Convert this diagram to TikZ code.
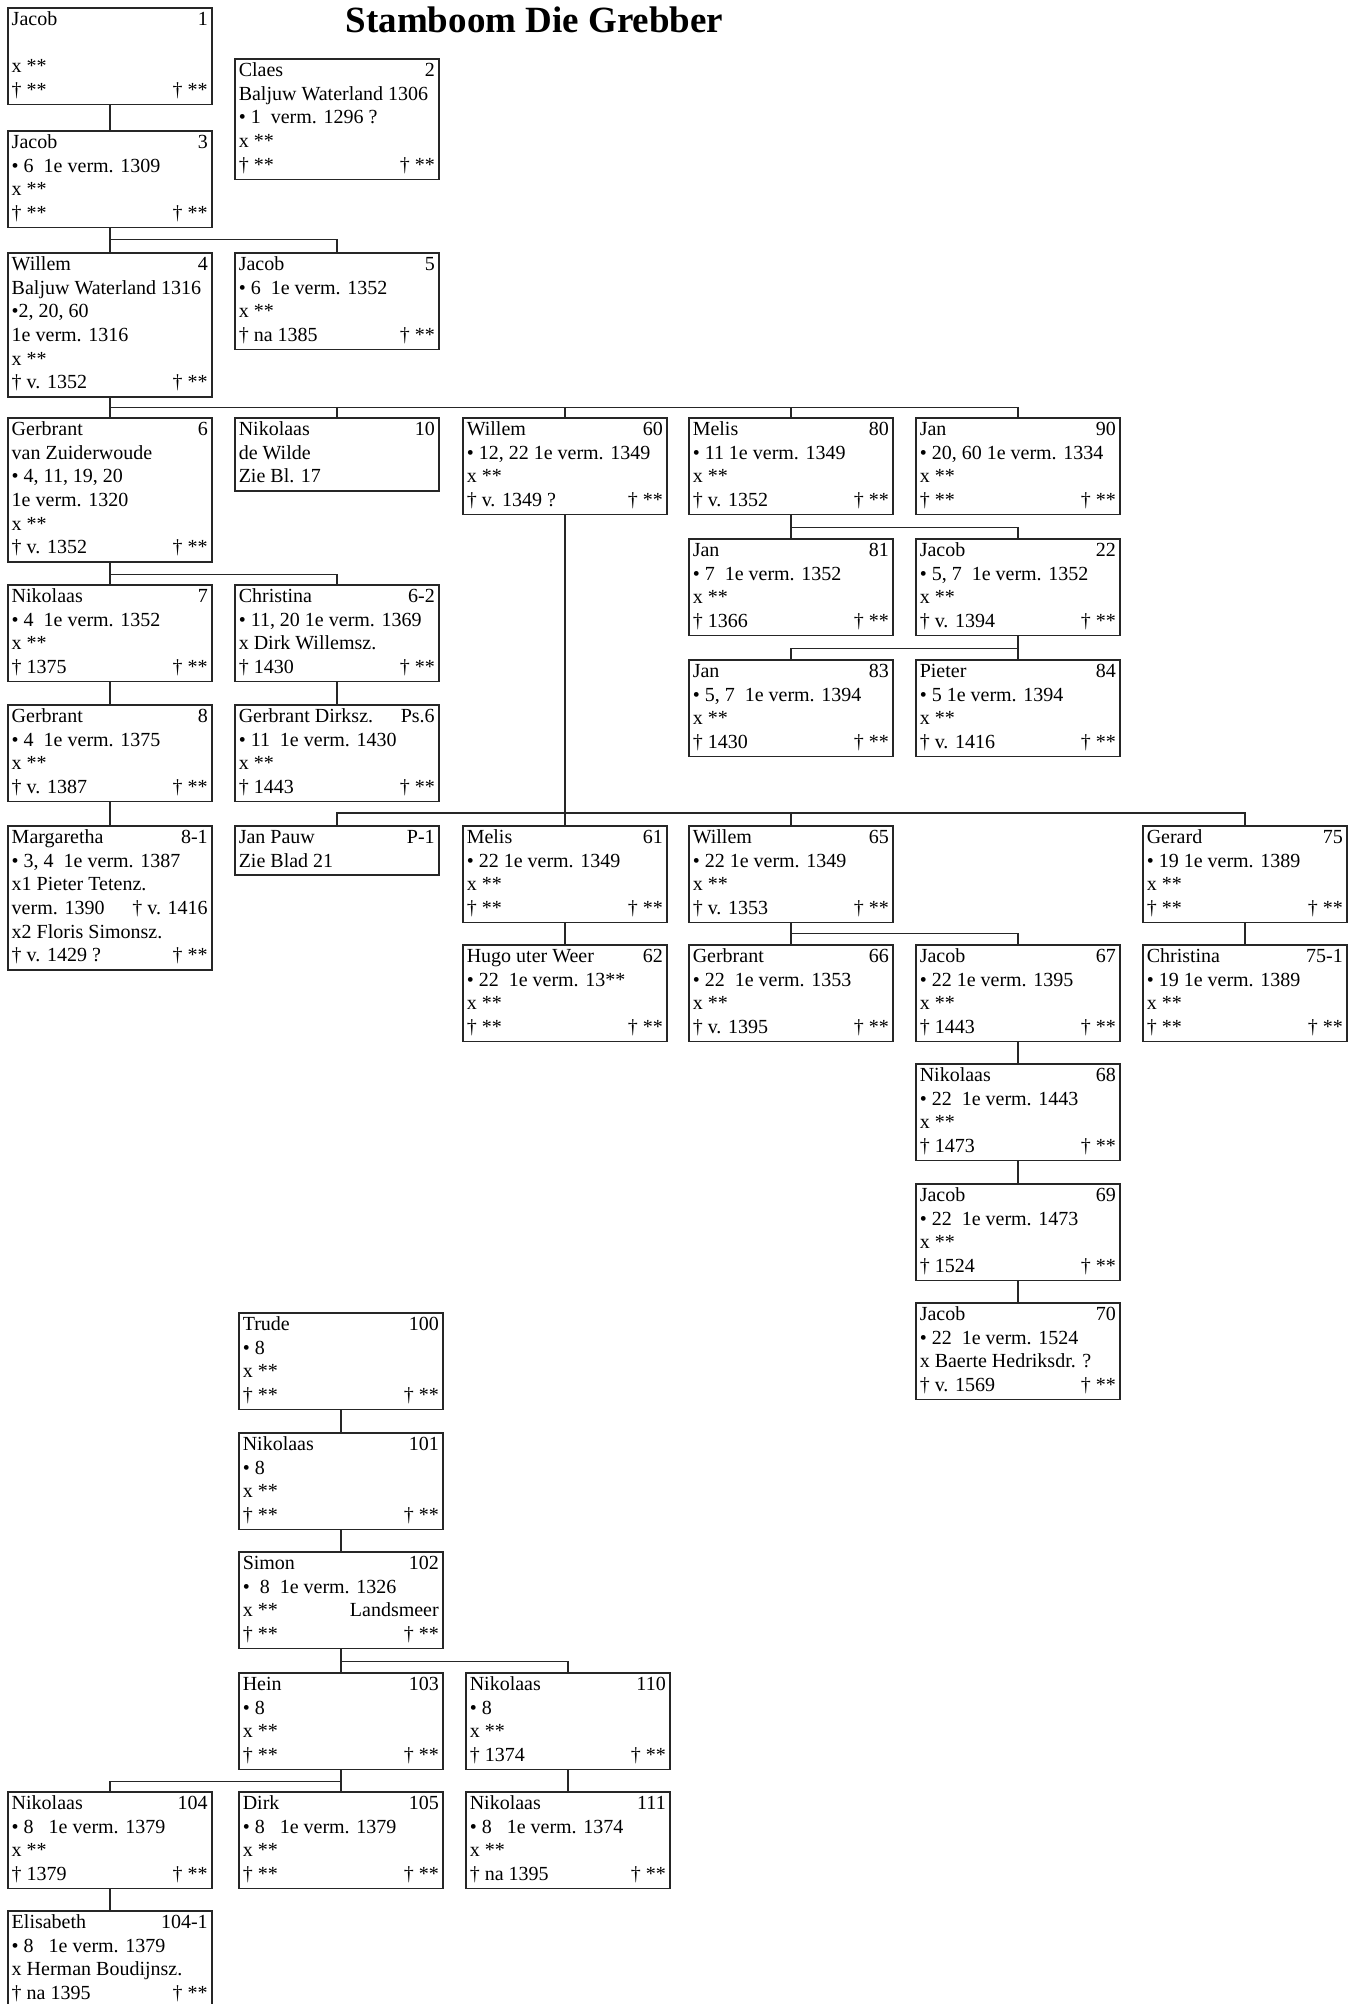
\documentclass[tikz,border=0pt]{standalone}
\usepackage{fontspec}
\setmainfont{Liberation Serif}
\newdimen\pbw \pbw=98pt
\newcommand{\Ln}[2]{\hbox to \pbw{\strut#1\hfill#2}}
\tikzset{
  pers/.style={draw=black!85, line width=0.75pt, anchor=north west, inner xsep=2pt, inner ysep=0.5pt,
    font=\fontsize{10}{11.85}\selectfont, text=black},
  link/.style={draw=black!85, line width=0.75pt},
}
\begin{document}
\begin{tikzpicture}[x=0.5pt,y=-0.5pt]
\path[use as bounding box] (0,0) rectangle (1358,2004);
\fill[white] (0,0) rectangle (1358,2004);
\begin{scope}
\clip (0,0) rectangle (1358,2004);

\node[font=\fontsize{18.5}{22}\selectfont\bfseries, anchor=base] (title) at (534.5,32) {Stamboom Die Grebber};

% top section
\node[pers] (n1) at (7,7) {\vbox{\Ln{Jacob}{1}\Ln{}{}\Ln{x **}{}\Ln{† **}{† **}}};
\node[pers] (n2) at (234,58) {\vbox{\Ln{Claes}{2}\Ln{Baljuw Waterland 1306}{}\Ln{• 1~~verm. 1296 ?}{}\Ln{x **}{}\Ln{† **}{† **}}};
\node[pers] (n3) at (7,130) {\vbox{\Ln{Jacob}{3}\Ln{• 6~~1e verm. 1309}{}\Ln{x **}{}\Ln{† **}{† **}}};
\node[pers] (n4) at (7,252) {\vbox{\Ln{Willem}{4}\Ln{Baljuw Waterland 1316}{}\Ln{•2, 20, 60}{}\Ln{1e verm. 1316}{}\Ln{x **}{}\Ln{† v. 1352}{† **}}};
\node[pers] (n5) at (234,252) {\vbox{\Ln{Jacob}{5}\Ln{• 6~~1e verm. 1352}{}\Ln{x **}{}\Ln{† na 1385}{† **}}};

\node[pers] (n6) at (7,417) {\vbox{\Ln{Gerbrant}{6}\Ln{van Zuiderwoude}{}\Ln{• 4, 11, 19, 20}{}\Ln{1e verm. 1320}{}\Ln{x **}{}\Ln{† v. 1352}{† **}}};
\node[pers] (n10) at (234,417) {\vbox{\Ln{Nikolaas}{10}\Ln{de Wilde}{}\Ln{Zie Bl. 17}{}}};
\node[pers] (n60) at (462,417) {\vbox{\Ln{Willem}{60}\Ln{• 12, 22 1e verm. 1349}{}\Ln{x **}{}\Ln{† v. 1349 ?}{† **}}};
\node[pers] (n80) at (688,417) {\vbox{\Ln{Melis}{80}\Ln{• 11 1e verm. 1349}{}\Ln{x **}{}\Ln{† v. 1352}{† **}}};
\node[pers] (n90) at (915,417) {\vbox{\Ln{Jan}{90}\Ln{• 20, 60 1e verm. 1334}{}\Ln{x **}{}\Ln{† **}{† **}}};

\node[pers] (n81) at (688,538) {\vbox{\Ln{Jan}{81}\Ln{• 7~~1e verm. 1352}{}\Ln{x **}{}\Ln{† 1366}{† **}}};
\node[pers] (n22) at (915,538) {\vbox{\Ln{Jacob}{22}\Ln{• 5, 7~~1e verm. 1352}{}\Ln{x **}{}\Ln{† v. 1394}{† **}}};
\node[pers] (n83) at (688,659) {\vbox{\Ln{Jan}{83}\Ln{• 5, 7~~1e verm. 1394}{}\Ln{x **}{}\Ln{† 1430}{† **}}};
\node[pers] (n84) at (915,659) {\vbox{\Ln{Pieter}{84}\Ln{• 5 1e verm. 1394}{}\Ln{x **}{}\Ln{† v. 1416}{† **}}};

\node[pers] (n7) at (7,584) {\vbox{\Ln{Nikolaas}{7}\Ln{• 4~~1e verm. 1352}{}\Ln{x **}{}\Ln{† 1375}{† **}}};
\node[pers] (n62b) at (234,584) {\vbox{\Ln{Christina}{6-2}\Ln{• 11, 20 1e verm. 1369}{}\Ln{x Dirk Willemsz.}{}\Ln{† 1430}{† **}}};
\node[pers] (n8) at (7,704) {\vbox{\Ln{Gerbrant}{8}\Ln{• 4~~1e verm. 1375}{}\Ln{x **}{}\Ln{† v. 1387}{† **}}};
\node[pers] (nps6) at (234,704) {\vbox{\Ln{Gerbrant Dirksz.}{Ps.6}\Ln{• 11~~1e verm. 1430}{}\Ln{x **}{}\Ln{† 1443}{† **}}};
\node[pers] (n81b) at (7,825) {\vbox{\Ln{Margaretha}{8-1}\Ln{• 3, 4~~1e verm. 1387}{}\Ln{x1 Pieter Tetenz.}{}\Ln{verm. 1390}{† v. 1416}\Ln{x2 Floris Simonsz.}{}\Ln{† v. 1429 ?}{† **}}};
\node[pers] (np1) at (234,825) {\vbox{\Ln{Jan Pauw}{P-1}\Ln{Zie Blad 21}{}}};

\node[pers] (n61) at (462,825) {\vbox{\Ln{Melis}{61}\Ln{• 22 1e verm. 1349}{}\Ln{x **}{}\Ln{† **}{† **}}};
\node[pers] (n65) at (688,825) {\vbox{\Ln{Willem}{65}\Ln{• 22 1e verm. 1349}{}\Ln{x **}{}\Ln{† v. 1353}{† **}}};
\node[pers] (n75) at (1142,825) {\vbox{\Ln{Gerard}{75}\Ln{• 19 1e verm. 1389}{}\Ln{x **}{}\Ln{† **}{† **}}};
\node[pers] (n62) at (462,944) {\vbox{\Ln{Hugo uter Weer}{62}\Ln{• 22~~1e verm. 13**}{}\Ln{x **}{}\Ln{† **}{† **}}};
\node[pers] (n66) at (688,944) {\vbox{\Ln{Gerbrant}{66}\Ln{• 22~~1e verm. 1353}{}\Ln{x **}{}\Ln{† v. 1395}{† **}}};
\node[pers] (n67) at (915,944) {\vbox{\Ln{Jacob}{67}\Ln{• 22 1e verm. 1395}{}\Ln{x **}{}\Ln{† 1443}{† **}}};
\node[pers] (n751) at (1142,944) {\vbox{\Ln{Christina}{75-1}\Ln{• 19 1e verm. 1389}{}\Ln{x **}{}\Ln{† **}{† **}}};
\node[pers] (n68) at (915,1063) {\vbox{\Ln{Nikolaas}{68}\Ln{• 22~~1e verm. 1443}{}\Ln{x **}{}\Ln{† 1473}{† **}}};
\node[pers] (n69) at (915,1183) {\vbox{\Ln{Jacob}{69}\Ln{• 22~~1e verm. 1473}{}\Ln{x **}{}\Ln{† 1524}{† **}}};
\node[pers] (n70) at (915,1302) {\vbox{\Ln{Jacob}{70}\Ln{• 22~~1e verm. 1524}{}\Ln{x Baerte Hedriksdr. ?}{}\Ln{† v. 1569}{† **}}};

% bottom section
\node[pers] (n100) at (238,1312) {\vbox{\Ln{Trude}{100}\Ln{• 8}{}\Ln{x **}{}\Ln{† **}{† **}}};
\node[pers] (n101) at (238,1432) {\vbox{\Ln{Nikolaas}{101}\Ln{• 8}{}\Ln{x **}{}\Ln{† **}{† **}}};
\node[pers] (n102) at (238,1551) {\vbox{\Ln{Simon}{102}\Ln{•~~8~~1e verm. 1326}{}\Ln{x **}{Landsmeer}\Ln{† **}{† **}}};
\node[pers] (n103) at (238,1672) {\vbox{\Ln{Hein}{103}\Ln{• 8}{}\Ln{x **}{}\Ln{† **}{† **}}};
\node[pers] (n110) at (465,1672) {\vbox{\Ln{Nikolaas}{110}\Ln{• 8}{}\Ln{x **}{}\Ln{† 1374}{† **}}};
\node[pers] (n104) at (7,1791) {\vbox{\Ln{Nikolaas}{104}\Ln{• 8~~~1e verm. 1379}{}\Ln{x **}{}\Ln{† 1379}{† **}}};
\node[pers] (n105) at (238,1791) {\vbox{\Ln{Dirk}{105}\Ln{• 8~~~1e verm. 1379}{}\Ln{x **}{}\Ln{† **}{† **}}};
\node[pers] (n111) at (465,1791) {\vbox{\Ln{Nikolaas}{111}\Ln{• 8~~~1e verm. 1374}{}\Ln{x **}{}\Ln{† na 1395}{† **}}};
\node[pers] (n1041) at (7,1910) {\vbox{\Ln{Elisabeth}{104-1}\Ln{• 8~~~1e verm. 1379}{}\Ln{x Herman Boudijnsz.}{}\Ln{† na 1395}{† **}}};

% connectors
\draw[link] (n1.south) -- (n3.north);
\path (n3.south) ++(0,11) coordinate (b3);
\draw[link] (n3.south) -- (n4.north);
\draw[link] (b3) -| (n5.north);

\path (n4.south) ++(0,10) coordinate (b4);
\draw[link] (n4.south) -- (n6.north);
\draw[link] (b4) -| (n10.north);
\draw[link] (b4) -| (n60.north);
\draw[link] (b4) -| (n80.north);
\draw[link] (b4) -| (n90.north);

\path (n80.south) ++(0,12) coordinate (b80);
\draw[link] (n80.south) -- (n81.north);
\draw[link] (b80) -| (n22.north);

\path (n22.south) ++(0,12) coordinate (b22);
\draw[link] (n22.south) -- (n84.north);
\draw[link] (b22) -| (n83.north);

\path (n6.south) ++(0,12) coordinate (b6);
\draw[link] (n6.south) -- (n7.north);
\draw[link] (b6) -| (n62b.north);
\draw[link] (n7.south) -- (n8.north);
\draw[link] (n8.south) -- (n81b.north);
\draw[link] (n62b.south) -- (nps6.north);

\path (n61.north) ++(0,-12) coordinate (b60);
\draw[link] (n60.south) -- (n61.north);
\draw[link] (b60) -| (np1.north);
\draw[link] (b60) -| (n65.north);
\draw[link] (b60) -| (n75.north);

\draw[link] (n61.south) -- (n62.north);
\path (n65.south) ++(0,10) coordinate (b65);
\draw[link] (n65.south) -- (n66.north);
\draw[link] (b65) -| (n67.north);
\draw[link] (n75.south) -- (n751.north);
\draw[link] (n67.south) -- (n68.north);
\draw[link] (n68.south) -- (n69.north);
\draw[link] (n69.south) -- (n70.north);

\draw[link] (n100.south) -- (n101.north);
\draw[link] (n101.south) -- (n102.north);
\path (n102.south) ++(0,12) coordinate (b102);
\draw[link] (n102.south) -- (n103.north);
\draw[link] (b102) -| (n110.north);
\path (n103.south) ++(0,11) coordinate (b103);
\draw[link] (n103.south) -- (n105.north);
\draw[link] (b103) -| (n104.north);
\draw[link] (n110.south) -- (n111.north);
\draw[link] (n104.south) -- (n1041.north);
\end{scope}
\end{tikzpicture}
\end{document}
